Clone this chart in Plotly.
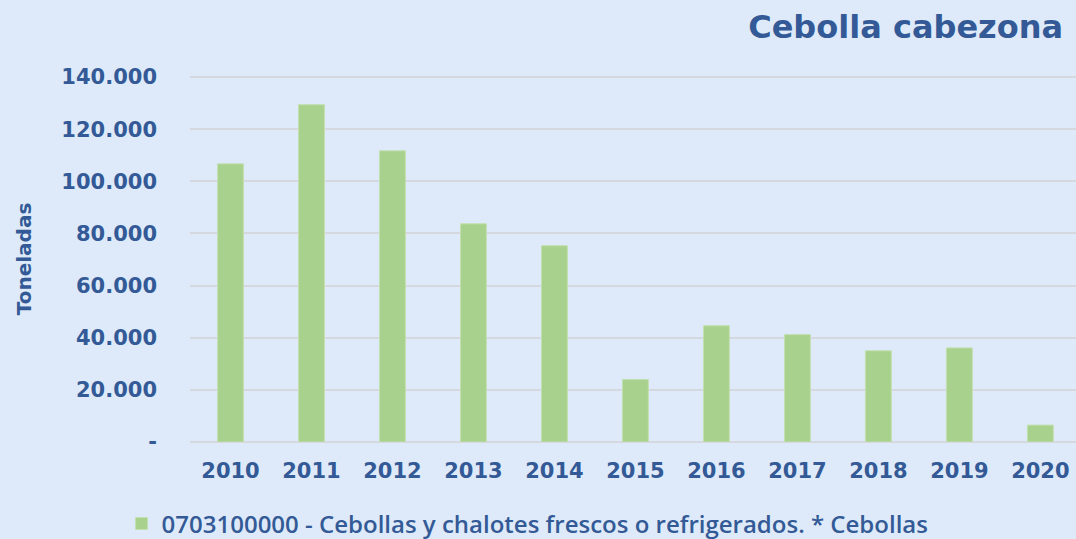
import plotly.graph_objects as go

years = ["2010", "2011", "2012", "2013", "2014", "2015", "2016", "2017", "2018", "2019", "2020"]
toneladas = [106700, 129400, 111700, 83700, 75300, 24000, 44600, 41200, 35000, 36100, 6500]
tick_vals = [0, 20000, 40000, 60000, 80000, 100000, 120000, 140000]
tick_text = ["-", "20.000", "40.000", "60.000", "80.000", "100.000", "120.000", "140.000"]
series_name = "0703100000 - Cebollas y chalotes frescos o refrigerados. * Cebollas"
title_text = "Cebolla cabezona"

blue = "#335A96"
bg = "#DEEAF9"

fig = go.Figure()
fig.add_trace(go.Bar(
    x=years, y=toneladas, name=series_name,
    marker=dict(color="#A9D18E", line=dict(color="#C3E0B0", width=1)),
    showlegend=True,
))

fig.update_layout(
    width=1076, height=539,
    paper_bgcolor=bg, plot_bgcolor=bg,
    margin=dict(l=190, r=0, t=76, b=97),
    bargap=0.68,
    title=dict(text=title_text, x=0.988, xanchor="right", xref="container",
               y=0.95, yanchor="middle", yref="container",
               font=dict(family="DejaVu Sans", size=32, color=blue, weight="bold")),
    showlegend=True,
    legend=dict(orientation="h", xref="container", yref="container",
                x=0.113, xanchor="left", y=0.028, yanchor="middle",
                font=dict(family="Open Sans", size=24, color=blue, weight=600),
                itemwidth=30, bgcolor="rgba(0,0,0,0)"),
    xaxis=dict(type="category", range=[-0.5, 10.44], showgrid=False, showline=False,
               ticks="", ticklabelstandoff=14,
               tickfont=dict(family="DejaVu Sans", size=21, color=blue, weight="bold")),
    yaxis=dict(range=[0, 140400], tickvals=tick_vals, ticktext=tick_text,
               showgrid=True, gridcolor="#D5D9DF", gridwidth=2,
               zeroline=True, zerolinecolor="#D5D9DF", zerolinewidth=2,
               ticks="", ticklabelstandoff=32,
               tickfont=dict(family="DejaVu Sans", size=21, color=blue, weight="bold"),
               title=dict(text="Toneladas", standoff=24,
                          font=dict(family="DejaVu Sans", size=20, color=blue, weight="bold"))),
)

fig.write_html("out.html", config={"displayModeBar": False},
               post_script="document.body.style.margin='0';document.body.style.overflow='hidden';")
